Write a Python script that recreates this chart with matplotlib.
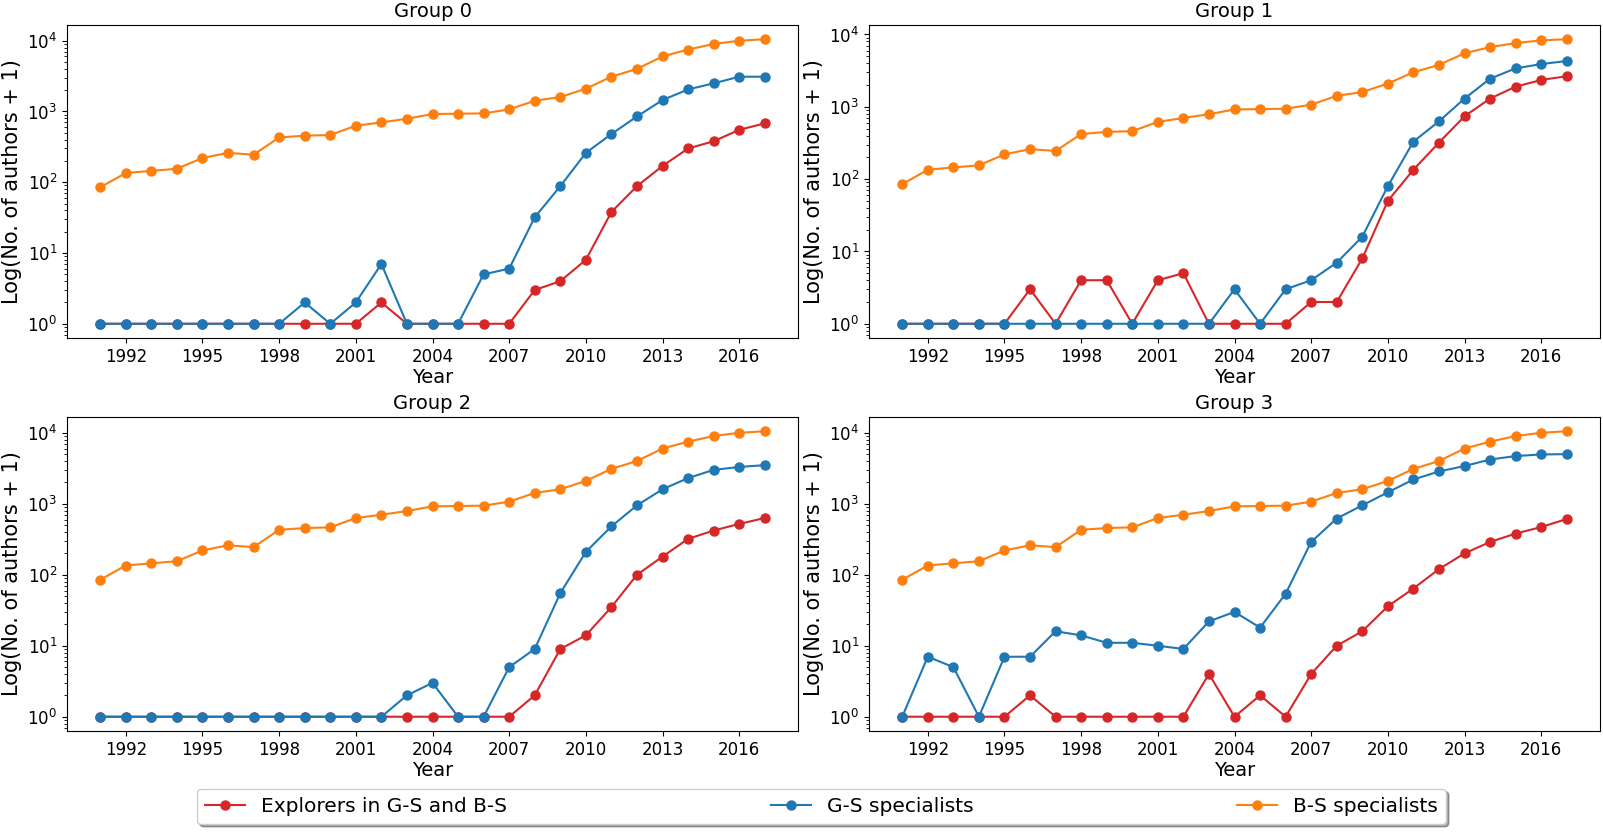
import matplotlib
matplotlib.use("Agg")
import matplotlib.pyplot as plt

years = list(range(1991, 2018))

bs_g0 = [85, 135, 145, 155, 220, 260, 245, 430, 455, 465, 630, 700, 790, 920, 930, 940, 1070, 1420, 1600, 2100, 3100, 4000, 6000, 7500, 9000, 10000, 10500]
gs_g0 = [1, 1, 1, 1, 1, 1, 1, 1, 2, 1, 2, 7, 1, 1, 1, 5, 6, 32, 88, 260, 480, 850, 1450, 2050, 2500, 3100, 3100]
ex_g0 = [1, 1, 1, 1, 1, 1, 1, 1, 1, 1, 1, 2, 1, 1, 1, 1, 1, 3, 4, 8, 38, 88, 170, 300, 380, 550, 680]

bs_g1 = [85, 135, 145, 155, 220, 260, 245, 420, 450, 460, 620, 700, 790, 920, 930, 940, 1070, 1420, 1600, 2100, 3000, 3800, 5500, 6700, 7600, 8300, 8600]
gs_g1 = [1, 1, 1, 1, 1, 1, 1, 1, 1, 1, 1, 1, 1, 3, 1, 3, 4, 7, 16, 80, 330, 630, 1300, 2450, 3400, 3900, 4300]
ex_g1 = [1, 1, 1, 1, 1, 3, 1, 4, 4, 1, 4, 5, 1, 1, 1, 1, 2, 2, 8, 50, 135, 320, 740, 1300, 1900, 2350, 2650]

bs_g2 = [85, 135, 145, 155, 220, 260, 245, 430, 455, 465, 630, 700, 790, 920, 930, 940, 1070, 1420, 1600, 2100, 3100, 4000, 6000, 7500, 9000, 10000, 10500]
gs_g2 = [1, 1, 1, 1, 1, 1, 1, 1, 1, 1, 1, 1, 2, 3, 1, 1, 5, 9, 55, 210, 480, 950, 1600, 2300, 3000, 3300, 3500]
ex_g2 = [1, 1, 1, 1, 1, 1, 1, 1, 1, 1, 1, 1, 1, 1, 1, 1, 1, 2, 9, 14, 35, 100, 180, 320, 420, 520, 630]

bs_g3 = [85, 135, 145, 155, 220, 260, 245, 430, 455, 465, 630, 700, 790, 920, 930, 940, 1070, 1420, 1600, 2100, 3100, 4000, 6000, 7500, 9000, 10000, 10500]
gs_g3 = [1, 7, 5, 1, 7, 7, 16, 14, 11, 11, 10, 9, 22, 30, 18, 54, 290, 620, 950, 1450, 2200, 2850, 3400, 4200, 4700, 4950, 5000]
ex_g3 = [1, 1, 1, 1, 1, 2, 1, 1, 1, 1, 1, 1, 4, 1, 2, 1, 4, 10, 16, 36, 64, 120, 200, 290, 380, 470, 610]

titles = ["Group 0", "Group 1", "Group 2", "Group 3"]
series_labels = ["Explorers in G-S and B-S", "G-S specialists", "B-S specialists"]
xtick_years = [1992, 1995, 1998, 2001, 2004, 2007, 2010, 2013, 2016]

groups = [
    (ex_g0, gs_g0, bs_g0),
    (ex_g1, gs_g1, bs_g1),
    (ex_g2, gs_g2, bs_g2),
    (ex_g3, gs_g3, bs_g3),
]
colors = ["#d62728", "#1f77b4", "#ff7f0e"]

fig = plt.figure(figsize=(16.03, 8.33), dpi=100)
W, H = 1603, 833
positions = [
    (67, 25, 798, 338),
    (869, 25, 1600, 338),
    (67, 417, 798, 731),
    (869, 417, 1600, 731),
]
handles = None
for (x0, y0, x1, y1), title, data in zip(positions, titles, groups):
    ax = fig.add_axes([x0 / W, 1 - y1 / H, (x1 - x0) / W, (y1 - y0) / H])
    hs = []
    for vals, c, lab in zip(data, colors, series_labels):
        h, = ax.plot(years, vals, marker="o", color=c, label=lab, markersize=6.5, linewidth=1.5)
        hs.append(h)
    handles = hs
    ax.set_yscale("log")
    ax.set_xticks(xtick_years)
    ax.set_title(title, fontsize=14)
    ax.set_xlabel("Year", fontsize=14, labelpad=2)
    ax.set_ylabel("Log(No. of authors + 1)", fontsize=15)
    ax.tick_params(axis="both", labelsize=12)

fig.legend(handles, series_labels, loc="lower left", ncol=3, mode="expand",
           bbox_to_anchor=(197 / W, 1 - 824 / H, (1446 - 197) / W, 32 / H),
           fontsize=14.5, shadow=True, fancybox=True, borderaxespad=0)

fig.savefig("out.png", dpi=100)
